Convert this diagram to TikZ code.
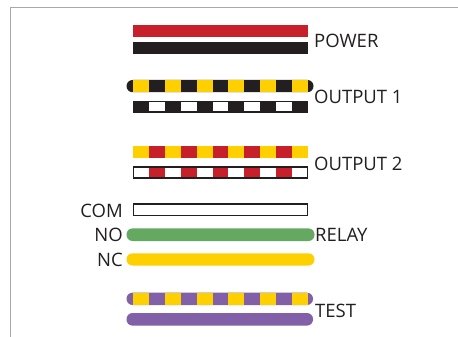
\documentclass[tikz,border=0pt]{standalone}
\usepackage{fontspec}
\setmainfont{Open Sans}
\definecolor{wred}{HTML}{C8202A}
\definecolor{wblack}{HTML}{231F20}
\definecolor{wyellow}{HTML}{FFD000}
\definecolor{wgreen}{HTML}{65A862}
\definecolor{wpurple}{HTML}{8260A8}
\definecolor{frameg}{HTML}{A8A8A4}
\newcommand{\segs}[4]{% top, bottom, colour even, colour odd
  \foreach \i in {0,...,10}{
    \pgfmathsetmacro{\xa}{133+\i*15.9}
    \pgfmathsetmacro{\xb}{\xa+15.9}
    \pgfmathparse{int(mod(\i,2))}
    \ifnum\pgfmathresult=0 \fill[#3] (\xa,#1) rectangle (\xb,#2);
    \else \fill[#4] (\xa,#1) rectangle (\xb,#2); \fi
  }}
\tikzset{
  lab/.style={font=\fontsize{18.5}{20}\selectfont, text=wblack, inner sep=0pt},
  bar/.style={rounded corners=6pt},
  wirebox/.style={draw=wblack, line width=1.2pt}
}
\begin{document}
\begin{tikzpicture}[x=1pt,y=-1pt]
\useasboundingbox (0,0) rectangle (458,337);
\fill[white] (0,0) rectangle (458,337);
% frame
\draw[frameg, line width=1.7pt] (10.5,337) -- (10.5,7.5) -- (458,7.5);
% power
\fill[wred] (133,25.3) rectangle (308,37.4);
\fill[wblack] (133,42.3) rectangle (308,54.5);
% output 1
\fill[wblack,bar] (126.5,80) rectangle (313.5,92.2);
\segs{80}{92.2}{wyellow}{wblack}
\fill[wblack] (133,100.5) rectangle (308,113);
\foreach \i in {0,...,4}{\fill[white] ({148.9+\i*31.8},102.2) rectangle ({164.8+\i*31.8},111.4);}
% output 2
\segs{146}{158.2}{wyellow}{wred}
\segs{167}{178.2}{white}{wred}
\draw[wirebox] (133.5,167) rectangle (307.5,178);
% relay
\draw[wirebox,fill=white] (133.5,204) rectangle (307.5,215.3);
\fill[wgreen,bar] (126.5,228.4) rectangle (314.5,241);
\fill[wyellow,bar] (126.5,253.3) rectangle (314.5,265.5);
% test
\fill[wpurple,bar] (126.5,292.7) rectangle (313,305);
\segs{292.7}{305}{wyellow}{wpurple}
\fill[wpurple,bar] (126.5,313) rectangle (313,325.6);
% labels
\node[lab,anchor=west] (power) at (314,41) {POWER};
\node[lab,anchor=west] (out1) at (314,97) {OUTPUT 1};
\node[lab,anchor=west] (out2) at (314,163.5) {OUTPUT 2};
\node[lab,anchor=east] (com) at (123,211) {COM};
\node[lab,anchor=east] (no) at (123,235) {NO};
\node[lab,anchor=east] (nc) at (123,260) {NC};
\node[lab,anchor=west] (relay) at (315,235) {RELAY};
\node[lab,anchor=west] (test) at (315,311) {TEST};
\end{tikzpicture}
\end{document}
